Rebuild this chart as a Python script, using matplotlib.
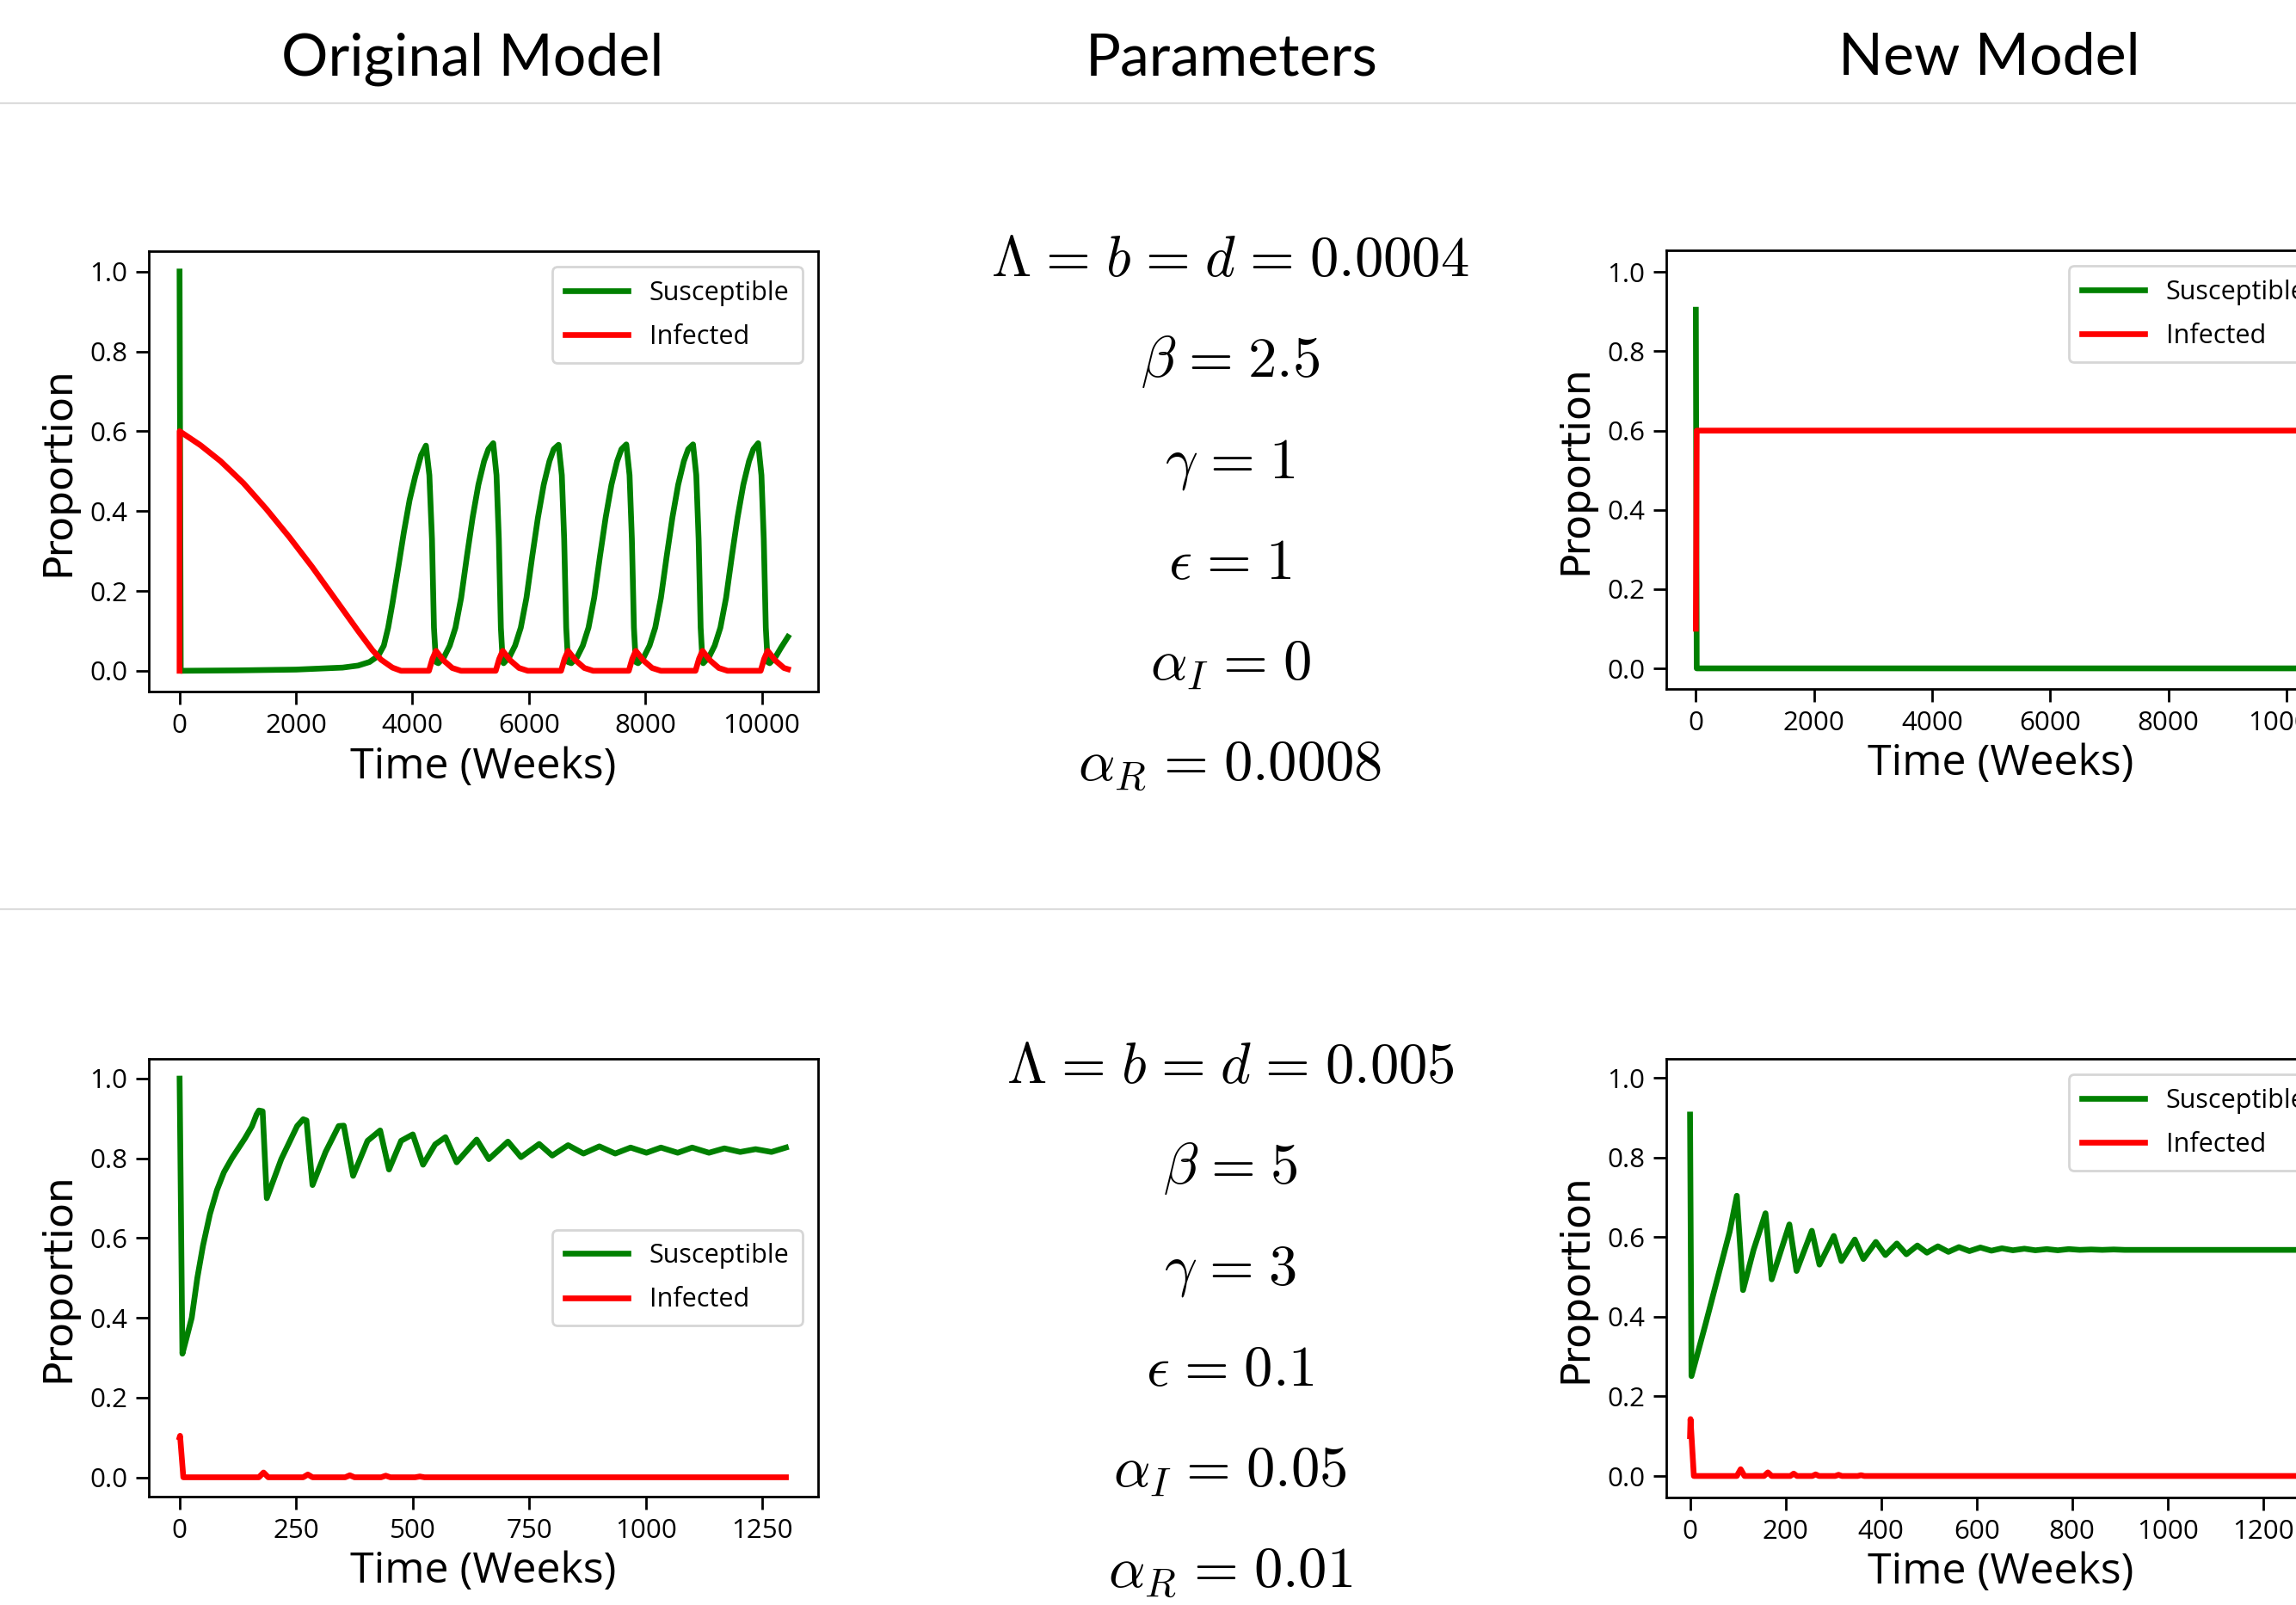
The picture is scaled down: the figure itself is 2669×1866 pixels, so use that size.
import matplotlib
matplotlib.use('Agg')
import matplotlib.pyplot as plt
from matplotlib import font_manager as fm
from matplotlib.lines import Line2D

W, H, DPI = 2669, 1866, 100
plt.rcParams['mathtext.fontset'] = 'cm'
avail = {f.name for f in fm.fontManager.ttflist}

def pick(*names):
    for n in names:
        if n in avail:
            return n
    return 'DejaVu Sans'

TICK_FONT = pick('Open Sans', 'Liberation Sans', 'DejaVu Sans')
HEAD_FONT = pick('Lato', 'Open Sans', 'DejaVu Sans')
YLAB_FONT = pick('DejaVu Sans')
plt.rcParams['font.family'] = [TICK_FONT, 'DejaVu Sans']

# ---------------- data ----------------
headers = ["Original Model", "Parameters", "New Model"]
series_names = ["Susceptible", "Infected"]

SP = r"\hspace{0.1}"
params_top = [rf"$\Lambda{SP}={SP}b{SP}={SP}d{SP}={SP}0.0004$", rf"$\beta{SP}={SP}2.5$", rf"$\gamma{SP}={SP}1$",
              rf"$\epsilon{SP}={SP}1$", rf"$\alpha_I{SP}={SP}0$", rf"$\alpha_R{SP}={SP}0.0008$"]
params_bot = [rf"$\Lambda{SP}={SP}b{SP}={SP}d{SP}={SP}0.005$", rf"$\beta{SP}={SP}5$", rf"$\gamma{SP}={SP}3$",
              rf"$\epsilon{SP}={SP}0.1$", rf"$\alpha_I{SP}={SP}0.05$", rf"$\alpha_R{SP}={SP}0.01$"]

# Top-left: original model, parameter set 1
tl_t_S = [0, 20, 1000, 2000, 2800, 3065, 3262, 3410, 3508, 3582, 3655, 3754, 3852, 3951, 4049, 4148, 4231,
          4290, 4335, 4369, 4403,
          4443, 4541, 4640, 4738, 4836, 4935, 5033, 5132, 5230, 5304, 5387, 5443, 5483, 5518, 5550,
          5565, 5663, 5762, 5860, 5958, 6057, 6155, 6254, 6352, 6426, 6509, 6565, 6605, 6640, 6672,
          6728, 6826, 6925, 7023, 7121, 7220, 7318, 7417, 7515, 7589, 7672, 7728, 7768, 7803, 7835,
          7874, 7972, 8071, 8169, 8267, 8366, 8464, 8563, 8661, 8735, 8818, 8874, 8914, 8949, 8981,
          8993, 9091, 9190, 9288, 9386, 9485, 9583, 9682, 9780, 9854, 9937, 9993, 10033, 10068, 10100,
          10134, 10232, 10330, 10448]
tl_S = [1.0, 0.0, 0.001, 0.003, 0.008, 0.013, 0.022, 0.037, 0.063, 0.108, 0.168, 0.257, 0.347, 0.428, 0.488, 0.54, 0.564,
        0.49, 0.33, 0.108, 0.022,
        0.019, 0.034, 0.063, 0.108, 0.183, 0.287, 0.384, 0.466, 0.525, 0.555, 0.570, 0.49, 0.33, 0.108, 0.022,
        0.019, 0.034, 0.063, 0.108, 0.183, 0.287, 0.384, 0.466, 0.525, 0.555, 0.566, 0.49, 0.33, 0.108, 0.022,
        0.019, 0.034, 0.063, 0.108, 0.183, 0.287, 0.384, 0.466, 0.525, 0.555, 0.567, 0.49, 0.33, 0.108, 0.022,
        0.019, 0.034, 0.063, 0.108, 0.183, 0.287, 0.384, 0.466, 0.525, 0.555, 0.567, 0.49, 0.33, 0.108, 0.022,
        0.019, 0.034, 0.063, 0.108, 0.183, 0.287, 0.384, 0.466, 0.525, 0.555, 0.570, 0.49, 0.33, 0.108, 0.022,
        0.019, 0.034, 0.058, 0.085]
tl_t_I = [0, 1, 359, 704, 1097, 1491, 1884, 2278, 2672, 3065, 3311, 3459, 3655, 3803,
          4283, 4343, 4403, 4533, 4683, 4833,
          5430, 5490, 5550, 5680, 5830, 5980,
          6552, 6612, 6672, 6802, 6952, 7102,
          7715, 7775, 7835, 7965, 8115, 8265,
          8861, 8921, 8981, 9111, 9261, 9411,
          9980, 10040, 10100, 10230, 10380, 10448]
tl_I = [0.0, 0.6, 0.565, 0.525, 0.47, 0.405, 0.335, 0.26, 0.18, 0.1, 0.052, 0.028, 0.008, 0.0,
        0.0, 0.03, 0.05, 0.026, 0.007, 0.0,
        0.0, 0.03, 0.05, 0.026, 0.007, 0.0,
        0.0, 0.03, 0.05, 0.026, 0.007, 0.0,
        0.0, 0.03, 0.05, 0.026, 0.007, 0.0,
        0.0, 0.03, 0.05, 0.026, 0.007, 0.0,
        0.0, 0.03, 0.05, 0.026, 0.007, 0.004]

# Top-right: new model, parameter set 1
tr_t = [0, 15, 10400]
tr_S = [0.905, 0.0, 0.0]
tr_I = [0.1, 0.6, 0.6]

# Bottom-left: original model, parameter set 2
bl_t_S = [0, 6, 15, 26, 38, 50, 65, 80, 95, 112, 126, 140, 155, 165, 170, 178, 187, 218, 252, 265, 272, 285,
          313, 341, 352, 372, 403, 430, 449, 475, 500, 522, 548, 570, 594, 637, 663, 704, 732, 771, 799, 833,
          866, 900, 934, 967, 1001, 1032, 1068, 1099, 1135, 1168, 1202, 1235, 1269, 1300]
bl_S = [1.0, 0.31, 0.35, 0.40, 0.50, 0.58, 0.66, 0.72, 0.765, 0.80, 0.825, 0.85, 0.88, 0.91, 0.92, 0.918,
        0.70, 0.798, 0.881, 0.898, 0.895, 0.733, 0.816, 0.881, 0.882, 0.756, 0.844, 0.87, 0.772, 0.844, 0.86,
        0.784, 0.835, 0.853, 0.79, 0.847, 0.798, 0.842, 0.803, 0.836, 0.807, 0.833, 0.812, 0.83, 0.812, 0.827,
        0.814, 0.827, 0.814, 0.827, 0.814, 0.825, 0.816, 0.823, 0.816, 0.827]
bl_t_I = [0, 1, 8, 170, 180, 190, 265, 275, 285, 355, 365, 375, 432, 442, 452, 505, 515, 525, 1300]
bl_I = [0.1, 0.104, 0.0, 0.0, 0.012, 0.0, 0.0, 0.007, 0.0, 0.0, 0.005, 0.0, 0.0, 0.004, 0.0, 0.0, 0.002, 0.0, 0.0]

# Bottom-right: new model, parameter set 2
br_t_S = [0, 3, 33, 63, 83, 98, 111, 133, 158, 171, 208, 223, 255, 271, 301, 317, 345, 363, 389, 409,
          433, 453, 476, 496, 519, 541, 563, 585, 608, 631, 653, 676, 700, 723, 747, 770, 793, 816, 840,
          863, 887, 910, 1350]
br_S = [0.908, 0.251, 0.384, 0.522, 0.614, 0.704, 0.467, 0.568, 0.66, 0.494, 0.632, 0.515, 0.616, 0.531,
        0.603, 0.54, 0.594, 0.545, 0.588, 0.555, 0.584, 0.557, 0.579, 0.561, 0.577, 0.563, 0.575, 0.565,
        0.574, 0.566, 0.572, 0.567, 0.571, 0.567, 0.570, 0.567, 0.570, 0.568, 0.569, 0.568, 0.569, 0.568,
        0.568]
br_t_I = [0, 1, 8, 98, 106, 114, 155, 163, 171, 210, 217, 224, 256, 263, 270, 304, 311, 318, 351, 358, 365, 1350]
br_I = [0.1, 0.143, 0.0, 0.0, 0.017, 0.0, 0.0, 0.009, 0.0, 0.0, 0.006, 0.0, 0.0, 0.004, 0.0, 0.0, 0.003, 0.0,
        0.0, 0.002, 0.0, 0.0]

# ---------------- figure ----------------
fig = plt.figure(figsize=(W / DPI, H / DPI), dpi=DPI)
fig.patch.set_facecolor('white')

def add_ax(left, top, right, bottom):
    return fig.add_axes([left / W, 1 - bottom / H, (right - left) / W, (bottom - top) / H])

LW = 4.8
panels = [
    ((173, 292, 951, 804), tl_t_S, tl_S, tl_t_I, tl_I, (-528, 10966), (-0.052, 1.051),
     [0, 2000, 4000, 6000, 8000, 10000], 'upper right'),
    ((1937, 291, 2714, 801), tr_t, tr_S, tr_t, tr_I, (-500, 10817), (-0.052, 1.055),
     [0, 2000, 4000, 6000, 8000, 10000], 'upper right'),
    ((173, 1231, 951, 1740), bl_t_S, bl_S, bl_t_I, bl_I, (-66, 1369), (-0.0485, 1.0496),
     [0, 250, 500, 750, 1000, 1250], 'center right'),
    ((1937, 1231, 2714, 1741), br_t_S, br_S, br_t_I, br_I, (-49.7, 1349.8), (-0.054, 1.048),
     [0, 200, 400, 600, 800, 1000, 1200], 'upper right'),
]

for box, tS, S, tI, I, xl, yl, xt, loc in panels:
    ax = add_ax(*box)
    ax.plot(tS, S, color='green', lw=LW, label=series_names[0], solid_joinstyle='round')
    ax.plot(tI, I, color='red', lw=LW, label=series_names[1], solid_joinstyle='round')
    ax.set_xlim(*xl)
    ax.set_ylim(*yl)
    ax.set_xticks(xt)
    ax.set_yticks([0.0, 0.2, 0.4, 0.6, 0.8, 1.0])
    ax.set_yticklabels(['0.0', '0.2', '0.4', '0.6', '0.8', '1.0'])
    ax.tick_params(labelsize=22.5, length=11, width=2, pad=7)
    for sp in ax.spines.values():
        sp.set_linewidth(2)
    ax.set_xlabel('Time (Weeks)', fontsize=36, family=TICK_FONT)
    ax.xaxis.set_label_coords(0.5, -0.172)
    ax.xaxis.label.set_va('center')
    ax.set_ylabel('Proportion', fontsize=34, family=YLAB_FONT)
    ax.yaxis.label.set_rotation_mode('anchor')
    ax.yaxis.label.set_va('center')
    ax.yaxis.label.set_ha('center')
    ax.yaxis.set_label_coords(-0.135, 0.5)
    leg = ax.legend(loc=loc, prop={'family': TICK_FONT, 'size': 22}, handlelength=2.4,
                    labelspacing=0.7, borderpad=0.5, borderaxespad=0.6, fancybox=True)
    leg.get_frame().set_linewidth(2)

# headers
head_x = [549, 1432, 2312]
for hx, txt in zip(head_x, headers):
    fig.text(hx / W, 1 - 87 / H, txt, ha='center', va='baseline', fontsize=49, family=HEAD_FONT)

# separators
for yy in (120, 1057):
    fig.add_artist(Line2D([0, 1], [1 - yy / H] * 2, color='#dcdcdc', lw=1.6, transform=fig.transFigure))

# parameter text
for i, s in enumerate(params_top):
    fig.text(1430 / W, 1 - (321 + 117.4 * i) / H, s, ha='center', va='baseline', fontsize=48)
for i, s in enumerate(params_bot):
    fig.text(1430 / W, 1 - (1259 + 117.4 * i) / H, s, ha='center', va='baseline', fontsize=48)

fig.savefig('out.png', dpi=DPI, facecolor='white')
